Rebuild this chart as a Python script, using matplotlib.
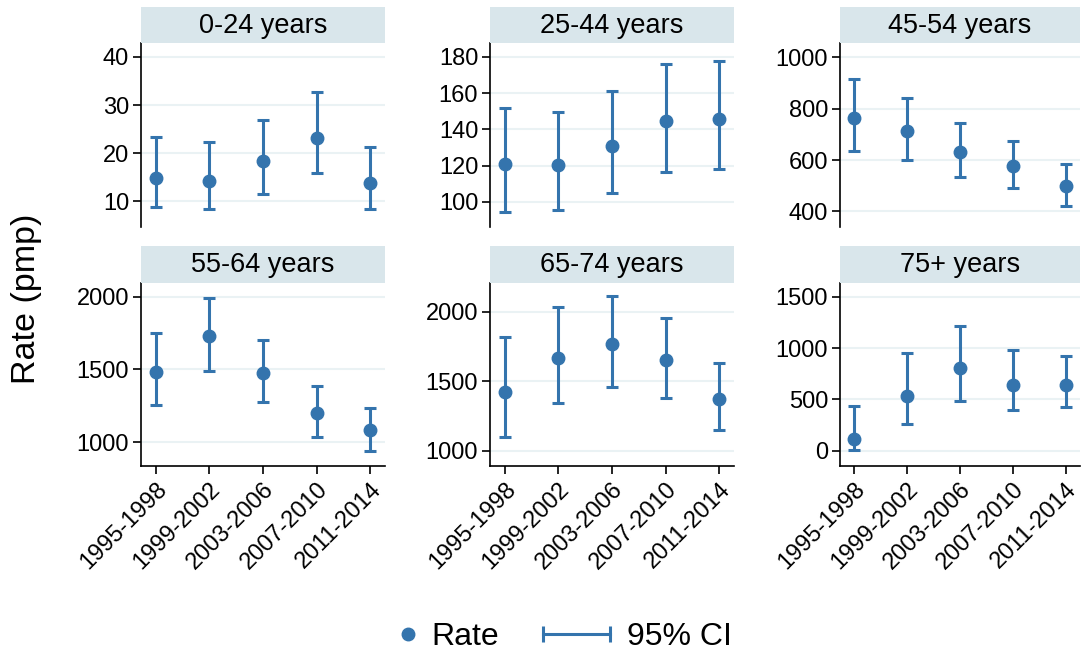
import matplotlib
matplotlib.use("Agg")
from matplotlib import pyplot as plt
from matplotlib.lines import Line2D
from matplotlib.legend_handler import HandlerLine2D
import numpy as np

plt.rcParams['font.family'] = ['Liberation Sans', 'DejaVu Sans']

# data
periods = ["1995-1998", "1999-2002", "2003-2006", "2007-2010", "2011-2014"]
groups = ["0-24 years", "25-44 years", "45-54 years",
          "55-64 years", "65-74 years", "75+ years"]

rate_0_24 = [14.9, 14.2, 18.3, 23.2, 13.9]
lo_0_24 = [8.8, 8.4, 11.6, 15.9, 8.5]
hi_0_24 = [23.4, 22.4, 27.0, 32.7, 21.4]

rate_25_44 = [120.8, 120.3, 131.0, 144.4, 145.9]
lo_25_44 = [94.5, 95.4, 105.1, 116.7, 118.0]
hi_25_44 = [151.7, 149.5, 161.3, 176.1, 177.7]

rate_45_54 = [765, 714, 632, 577, 499]
lo_45_54 = [635, 600, 534, 490, 422]
hi_45_54 = [914, 843, 743, 674, 584]

rate_55_64 = [1485, 1730, 1478, 1203, 1082]
lo_55_64 = [1254, 1492, 1275, 1039, 940]
hi_55_64 = [1749, 1993, 1705, 1389, 1234]

rate_65_74 = [1426, 1665, 1766, 1651, 1376]
lo_65_74 = [1103, 1342, 1462, 1380, 1151]
hi_65_74 = [1816, 2034, 2110, 1952, 1630]

rate_75 = [117, 530, 802, 643, 637]
lo_75 = [10, 260, 487, 399, 422]
hi_75 = [435, 949, 1218, 978, 919]

rates = [rate_0_24, rate_25_44, rate_45_54, rate_55_64, rate_65_74, rate_75]
lows = [lo_0_24, lo_25_44, lo_45_54, lo_55_64, lo_65_74, lo_75]
highs = [hi_0_24, hi_25_44, hi_45_54, hi_55_64, hi_65_74, hi_75]

yticks = [[10, 20, 30, 40], [100, 120, 140, 160, 180], [400, 600, 800, 1000],
          [1000, 1500, 2000], [1000, 1500, 2000], [0, 500, 1000, 1500]]
ylims = [(4.7, 42.9), (86.2, 187.7), (339, 1056),
         (839, 2096), (894, 2208), (-146, 1636)]

blue = "#3474ad"
grid_col = "#eaf2f4"
strip_col = "#d9e6eb"

W, H = 1082, 654
fig = plt.figure(figsize=(W / 100, H / 100), dpi=100)

cols = [(141, 385), (490, 734), (840, 1080)]
rows = [(7, 43, 227), (246, 282.7, 465.7)]

for i in range(6):
    r, c = divmod(i, 3)
    x0, x1 = cols[c]
    st, pt, pb = rows[r]
    ax = fig.add_axes([x0 / W, 1 - pb / H, (x1 - x0) / W, (pb - pt) / H])
    sax = fig.add_axes([x0 / W, 1 - pt / H, (x1 - x0) / W, (pt - st) / H])
    sax.set_facecolor(strip_col)
    sax.set_xticks([])
    sax.set_yticks([])
    for s in sax.spines.values():
        s.set_visible(False)
    sax.text(0.5, 0.47, groups[i], ha='center', va='center', fontsize=19.5,
             transform=sax.transAxes)

    x = np.arange(len(periods))
    rt = np.array(rates[i])
    err = [rt - np.array(lows[i]), np.array(highs[i]) - rt]
    ax.errorbar(x, rt, yerr=err, fmt='o', color=blue, ms=9, elinewidth=2.2,
                capsize=4.5, capthick=2.2, zorder=3)

    ax.set_xlim(-0.27, 4.27)
    ax.set_ylim(*ylims[i])
    ax.set_yticks(yticks[i])
    for t in yticks[i]:
        ax.axhline(t, color=grid_col, lw=1.5, zorder=0)
    ax.spines['top'].set_visible(False)
    ax.spines['right'].set_visible(False)
    ax.spines['left'].set_linewidth(1.2)
    ax.tick_params(axis='y', labelsize=17, length=6, width=1.2, pad=2.5,
                   direction='out')
    if r == 0:
        ax.spines['bottom'].set_visible(False)
        ax.set_xticks([])
    else:
        ax.spines['bottom'].set_linewidth(1.2)
        ax.set_xticks(x)
        ax.set_xticklabels(periods, rotation=45, ha='right', rotation_mode='anchor')
        ax.tick_params(axis='x', labelsize=17, length=6, width=1.2, pad=3,
                       direction='out')

fig.text(27 / W, 1 - 299 / H, "Rate (pmp)", rotation=90, ha='center', va='center',
         fontsize=24.5)

h_rate = Line2D([], [], marker='o', ls='none', color=blue, ms=9)
h_ci = Line2D([0, 1], [0, 0], marker='|', color=blue, lw=2.2, ms=11, mew=2.2)
leg1 = fig.legend([h_rate], ["Rate"], loc='center left',
                  bbox_to_anchor=(398 / W, 1 - 637 / H), frameon=False,
                  fontsize=23, handlelength=0.6, handletextpad=0.45,
                  borderpad=0, borderaxespad=0,
                  handler_map={h_rate: HandlerLine2D(numpoints=1)})
leg2 = fig.legend([h_ci], ["95% CI"], loc='center left',
                  bbox_to_anchor=(543 / W, 1 - 637 / H), frameon=False,
                  fontsize=23, handlelength=2.1, handletextpad=0.53,
                  borderpad=0, borderaxespad=0,
                  handler_map={h_ci: HandlerLine2D(numpoints=2, marker_pad=0)})

fig.savefig("out.png", dpi=100)
